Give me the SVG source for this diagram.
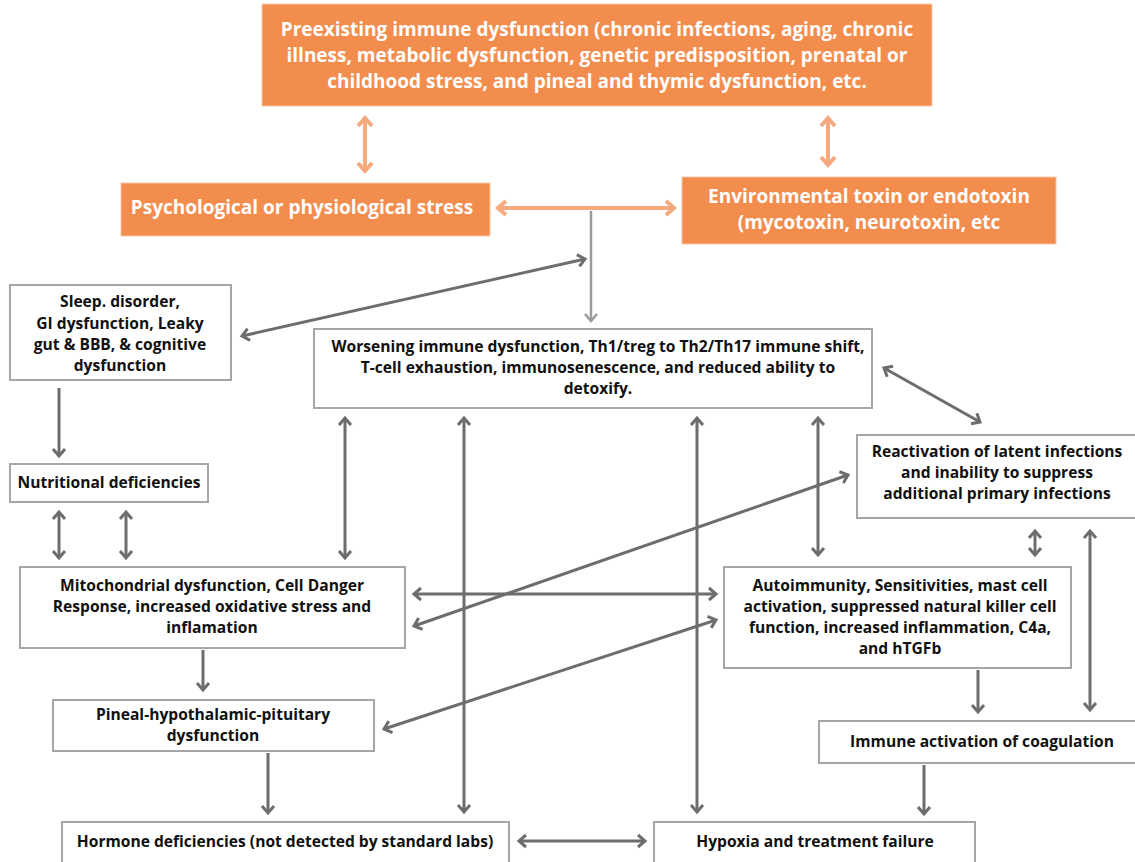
<svg xmlns="http://www.w3.org/2000/svg" width="1135" height="862" viewBox="0 0 1135 862">
<style>
.obox{fill:#F38D4E;stroke:#f6c7a8;stroke-width:1}
.wbox{fill:#fff;stroke:#a6a6a6;stroke-width:2}
.wt{font-family:"Open Sans","Liberation Sans",sans-serif;font-weight:700;font-size:19px;fill:#fff;text-anchor:middle}
.bt{font-family:"Open Sans","Liberation Sans",sans-serif;font-weight:700;font-size:15.6px;fill:#111;text-anchor:middle}
.oa{stroke:#F4A97F;stroke-width:4;fill:none}
.ga{stroke:#6d6d6d;stroke-width:3;fill:none}
.la{stroke:#9a9a9a;stroke-width:2.5;fill:none}
</style>
<defs>
<marker id="ho" markerUnits="userSpaceOnUse" markerWidth="20" markerHeight="20" viewBox="-12 -10 14 20" refX="0" refY="0" orient="auto-start-reverse"><path d="M-8,-7 L0,0 L-8,7" fill="none" stroke="#F4A97F" stroke-width="4"/></marker>
<marker id="hg" markerUnits="userSpaceOnUse" markerWidth="20" markerHeight="20" viewBox="-12 -10 14 20" refX="0" refY="0" orient="auto-start-reverse"><path d="M-7,-6 L0,0 L-7,6" fill="none" stroke="#6d6d6d" stroke-width="3"/></marker>
<marker id="hl" markerUnits="userSpaceOnUse" markerWidth="20" markerHeight="20" viewBox="-12 -10 14 20" refX="0" refY="0" orient="auto-start-reverse"><path d="M-7,-6 L0,0 L-7,6" fill="none" stroke="#9a9a9a" stroke-width="2.5"/></marker>
</defs>
<g id="connectors">
<line class="oa" x1="365" y1="118" x2="365" y2="171" marker-start="url(#ho)" marker-end="url(#ho)"/>
<line class="oa" x1="828" y1="118" x2="828" y2="165" marker-start="url(#ho)" marker-end="url(#ho)"/>
<line class="oa" x1="498" y1="208" x2="674" y2="208" marker-start="url(#ho)" marker-end="url(#ho)"/>
<line class="la" x1="591" y1="211" x2="591" y2="321" marker-end="url(#hl)"/>
<line class="ga" x1="242" y1="336" x2="585" y2="259" marker-start="url(#hg)" marker-end="url(#hg)"/>
<line class="ga" x1="59" y1="388" x2="59" y2="456" marker-end="url(#hg)"/>
<line class="ga" x1="59" y1="512" x2="59" y2="558" marker-start="url(#hg)" marker-end="url(#hg)"/>
<line class="ga" x1="126" y1="512" x2="126" y2="558" marker-start="url(#hg)" marker-end="url(#hg)"/>
<line class="ga" x1="345" y1="418" x2="345" y2="558" marker-start="url(#hg)" marker-end="url(#hg)"/>
<line class="ga" x1="464" y1="418" x2="464" y2="812" marker-start="url(#hg)" marker-end="url(#hg)"/>
<line class="ga" x1="697" y1="418" x2="697" y2="812" marker-start="url(#hg)" marker-end="url(#hg)"/>
<line class="ga" x1="818" y1="418" x2="818" y2="555" marker-start="url(#hg)" marker-end="url(#hg)"/>
<line class="ga" x1="884" y1="368" x2="980" y2="422" marker-start="url(#hg)" marker-end="url(#hg)"/>
<line class="ga" x1="414" y1="594" x2="716" y2="594" marker-start="url(#hg)" marker-end="url(#hg)"/>
<line class="ga" x1="414" y1="626" x2="848" y2="475" marker-start="url(#hg)" marker-end="url(#hg)"/>
<line class="ga" x1="384" y1="729" x2="716" y2="620" marker-start="url(#hg)" marker-end="url(#hg)"/>
<line class="ga" x1="1035" y1="531" x2="1035" y2="555" marker-start="url(#hg)" marker-end="url(#hg)"/>
<line class="ga" x1="1090" y1="531" x2="1090" y2="710" marker-start="url(#hg)" marker-end="url(#hg)"/>
<line class="ga" x1="978" y1="670" x2="978" y2="712" marker-end="url(#hg)"/>
<line class="ga" x1="924" y1="765" x2="924" y2="814" marker-end="url(#hg)"/>
<line class="ga" x1="203" y1="650" x2="203" y2="690" marker-end="url(#hg)"/>
<line class="ga" x1="268" y1="753" x2="268" y2="813" marker-end="url(#hg)"/>
<line class="ga" x1="519" y1="841" x2="645" y2="841" marker-start="url(#hg)" marker-end="url(#hg)"/>
</g>
<g id="preexisting">
<rect class="obox" x="262" y="4" width="670" height="102"/>
<text class="wt" x="597" y="36">Preexisting immune dysfunction (chronic infections, aging, chronic</text>
<text class="wt" x="597" y="62">illness, metabolic dysfunction, genetic predisposition, prenatal or</text>
<text class="wt" x="597" y="88">childhood stress, and pineal and thymic dysfunction, etc.</text>
</g>
<g id="psych">
<rect class="obox" x="121" y="183" width="369" height="53"/>
<text class="wt" x="302" y="214">Psychological or physiological stress</text>
</g>
<g id="env">
<rect class="obox" x="682" y="177" width="374" height="67"/>
<text class="wt" x="869" y="203">Environmental toxin or endotoxin</text>
<text class="wt" x="869" y="229">(mycotoxin, neurotoxin, etc</text>
</g>
<g id="sleep">
<rect class="wbox" x="10" y="285" width="221" height="95"/>
<text class="bt" x="120" y="307">Sleep. disorder,</text>
<text class="bt" x="120" y="329">GI dysfunction, Leaky</text>
<text class="bt" x="120" y="350">gut &amp; BBB, &amp; cognitive</text>
<text class="bt" x="120" y="371">dysfunction</text>
</g>
<g id="worsening">
<rect class="wbox" x="314" y="329" width="558" height="79"/>
<text class="bt" x="598" y="352">Worsening immune dysfunction, Th1/treg to Th2/Th17 immune shift,</text>
<text class="bt" x="598" y="373">T-cell exhaustion, immunosenescence, and reduced ability to</text>
<text class="bt" x="598" y="394">detoxify.</text>
</g>
<g id="nutritional">
<rect class="wbox" x="10" y="464" width="198" height="38"/>
<text class="bt" x="109" y="488">Nutritional deficiencies</text>
</g>
<g id="reactivation">
<rect class="wbox" x="857" y="435" width="279" height="83"/>
<text class="bt" x="997" y="457">Reactivation of latent infections</text>
<text class="bt" x="997" y="478">and inability to suppress</text>
<text class="bt" x="997" y="499">additional primary infections</text>
</g>
<g id="mito">
<rect class="wbox" x="20" y="567" width="385" height="81"/>
<text class="bt" x="212" y="591">Mitochondrial dysfunction, Cell Danger</text>
<text class="bt" x="212" y="612">Response, increased oxidative stress and</text>
<text class="bt" x="212" y="633">inflamation</text>
</g>
<g id="autoimmunity">
<rect class="wbox" x="724" y="567" width="347" height="101"/>
<text class="bt" x="900" y="591">Autoimmunity, Sensitivities, mast cell</text>
<text class="bt" x="900" y="612">activation, suppressed natural killer cell</text>
<text class="bt" x="900" y="633">function, increased inflammation, C4a,</text>
<text class="bt" x="900" y="654">and hTGFb</text>
</g>
<g id="pineal">
<rect class="wbox" x="53" y="700" width="321" height="51"/>
<text class="bt" x="213" y="720">Pineal-hypothalamic-pituitary</text>
<text class="bt" x="213" y="741">dysfunction</text>
</g>
<g id="coagulation">
<rect class="wbox" x="819" y="721" width="317" height="42"/>
<text class="bt" x="982" y="747">Immune activation of coagulation</text>
</g>
<g id="hormone">
<rect class="wbox" x="62" y="822" width="447" height="45"/>
<text class="bt" x="285" y="847">Hormone deficiencies (not detected by standard labs)</text>
</g>
<g id="hypoxia">
<rect class="wbox" x="654" y="822" width="321" height="45"/>
<text class="bt" x="815" y="847">Hypoxia and treatment failure</text>
</g>
</svg>
